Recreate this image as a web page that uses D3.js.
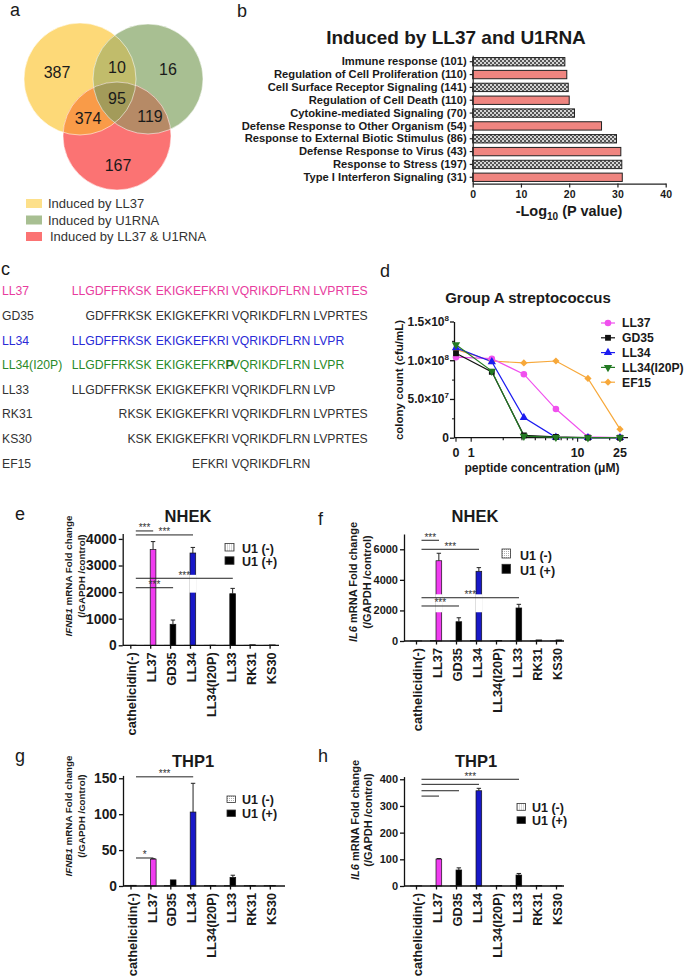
<!DOCTYPE html>
<html>
<head>
<meta charset="utf-8">
<script src="https://cdn.jsdelivr.net/npm/d3@7/dist/d3.min.js"></script>
<style>
  body { margin: 0; background: #fff; }
  svg { display: block; font-family: Arial, "Liberation Sans", Helvetica, sans-serif; }
</style>
</head>
<body>
<svg id="fig" width="685" height="980"></svg>
<script>
// ---- data ----
const vennSets = ["Induced by LL37", "Induced by U1RNA", "Induced by LL37 & U1RNA"];
// regions: LL37 only, LL37&U1, U1 only, all three, LL37&both, U1&both, both only
const vennCounts = [387, 10, 16, 95, 374, 119, 167];

const goTerms = [
  "Immune response (101)",
  "Regulation of Cell Proliferation (110)",
  "Cell Surface Receptor Signaling (141)",
  "Regulation of Cell Death (110)",
  "Cytokine-mediated Signaling (70)",
  "Defense Response to Other Organism (54)",
  "Response to External Biotic Stimulus (86)",
  "Defense Response to Virus (43)",
  "Response to Stress (197)",
  "Type I Interferon Signaling (31)"
];
const goLogP = [19.1, 19.5, 19.8, 20.0, 21.1, 26.7, 29.8, 30.7, 30.9, 31.0];
const goKind = ["hatch", "red", "hatch", "red", "hatch", "red", "hatch", "red", "hatch", "red"];

const ll37Seq = "LLGDFFRKSKEKIGKEFKRIVQRIKDFLRNLVPRTES";
const peptideNames = ["LL37", "GD35", "LL34", "LL34(I20P)", "LL33", "RK31", "KS30", "EF15"];
const peptideSeqs = [
  "LLGDFFRKSKEKIGKEFKRIVQRIKDFLRNLVPRTES",
  "GDFFRKSKEKIGKEFKRIVQRIKDFLRNLVPRTES",
  "LLGDFFRKSKEKIGKEFKRIVQRIKDFLRNLVPR",
  "LLGDFFRKSKEKIGKEFKRPVQRIKDFLRNLVPR",
  "LLGDFFRKSKEKIGKEFKRIVQRIKDFLRNLVP",
  "RKSKEKIGKEFKRIVQRIKDFLRNLVPRTES",
  "KSKEKIGKEFKRIVQRIKDFLRNLVPRTES",
  "EFKRIVQRIKDFLRN"
];
const peptideStart = [1, 3, 1, 1, 1, 7, 8, 16];

const concUM = [0, 1.5625, 3.125, 6.25, 12.5, 25];
const killLL37 = [1.04e8, 1.02e8, 0.82e8, 0.37e8, 0.01e8, 0];
const killGD35 = [1.09e8, 0.85e8, 0.03e8, 0.01e8, 0, 0];
const killLL34 = [1.16e8, 0.98e8, 0.26e8, 0.005e8, 0, 0];
const killLL34I20P = [1.20e8, 0.86e8, 0.02e8, 0.005e8, 0, 0];
const killEF15 = [1.14e8, 0.99e8, 0.965e8, 0.99e8, 0.765e8, 0.11e8];

const cats = ["cathelicidin(-)", "LL37", "GD35", "LL34", "LL34(I20P)", "LL33", "RK31", "KS30"];
const ifnbNhekMinus = [3, 3, 3, 3, 3, 3, 3, 3];
const ifnbNhekPlus = [5, 3600, 790, 3470, 8, 1940, 20, 15];
const ifnbNhekErr = [0, 300, 160, 210, 0, 200, 0, 0];
const il6NhekMinus = [10, 30, 10, 20, 10, 10, 10, 10];
const il6NhekPlus = [10, 5250, 1260, 4560, 30, 2160, 70, 70];
const il6NhekErr = [0, 490, 260, 240, 0, 240, 0, 0];
const ifnbThpMinus = [1, 0.8, 0.8, 0.8, 0.8, 0.8, 0.8, 0.8];
const ifnbThpPlus = [1, 37.5, 8.5, 103, 0.8, 12, 0.8, 0.8];
const ifnbThpErr = [0, 0.5, 0, 40, 0, 3, 0, 0];
const il6ThpMinus = [1, 1, 1, 1, 1, 1, 1, 1];
const il6ThpPlus = [1, 101, 60, 357, 2, 41, 2, 1];
const il6ThpErr = [0, 2, 8, 9, 0, 6, 0, 0];

const FONT_BLACK = "#1a1a1a";

let svg = d3.select("#fig");
svg.append("rect").attr("width", 685).attr("height", 980).attr("fill", "#fff");

let defs = svg.append("defs");
// checker fill used for the grey GO bars
let chk = defs.append("pattern").attr("id", "checker")
  .attr("width", 4).attr("height", 4).attr("patternUnits", "userSpaceOnUse");
chk.append("rect").attr("width", 4).attr("height", 4).attr("fill", "#d4d4d4");
chk.append("rect").attr("width", 2).attr("height", 2).attr("fill", "#555");
chk.append("rect").attr("x", 2).attr("y", 2).attr("width", 2).attr("height", 2).attr("fill", "#555");
// dotted fill for U1(-)
let dots = defs.append("pattern").attr("id", "dots")
  .attr("width", 2).attr("height", 2).attr("patternUnits", "userSpaceOnUse");
dots.append("rect").attr("width", 2).attr("height", 2).attr("fill", "#fff");
dots.append("rect").attr("width", 1).attr("height", 1).attr("fill", "#b0b0b0");

// panel letters
const letters = [["a", 10, 16], ["b", 237, 17], ["c", 1, 275], ["d", 380, 277],
  ["e", 15, 520], ["f", 318, 525], ["g", 15, 762], ["h", 318, 762]];
svg.selectAll(".letter").data(letters).enter().append("text")
  .attr("class", "letter")
  .attr("x", d => d[1]).attr("y", d => d[2])
  .attr("font-size", 18).attr("fill", FONT_BLACK)
  .text(d => d[0]);

// ================= a : venn =================
const vennCircles = [
  { cx: 80, cy: 79, r: 56, fill: "#fdd978" },
  { cx: 148, cy: 79, r: 55, fill: "#a8bf92" },
  { cx: 117, cy: 136, r: 54, fill: "#fb7373" }
];
let venn = svg.append("g");
vennCircles.forEach((c, i) => {
  defs.append("clipPath").attr("id", "vclip" + i)
    .append("circle").attr("cx", c.cx).attr("cy", c.cy).attr("r", c.r);
  venn.append("circle").attr("cx", c.cx).attr("cy", c.cy).attr("r", c.r).attr("fill", c.fill);
});
const [cY, cG, cR] = vennCircles;
venn.append("circle").attr("cx", cG.cx).attr("cy", cG.cy).attr("r", cG.r)
  .attr("fill", "#c1bc6b").attr("clip-path", "url(#vclip0)");
venn.append("circle").attr("cx", cR.cx).attr("cy", cR.cy).attr("r", cR.r)
  .attr("fill", "#f99b48").attr("clip-path", "url(#vclip0)");
venn.append("circle").attr("cx", cR.cx).attr("cy", cR.cy).attr("r", cR.r)
  .attr("fill", "#b68a66").attr("clip-path", "url(#vclip1)");
venn.append("g").attr("clip-path", "url(#vclip0)")
  .append("circle").attr("cx", cR.cx).attr("cy", cR.cy).attr("r", cR.r)
  .attr("fill", "#a39b5a").attr("clip-path", "url(#vclip1)");
venn.selectAll(".edge").data(vennCircles).enter().append("circle")
  .attr("cx", d => d.cx).attr("cy", d => d.cy).attr("r", d => d.r)
  .attr("fill", "none").attr("stroke", "#fff").attr("stroke-opacity", 0.55).attr("stroke-width", 1);

// label spots for the 7 regions
const vennSpots = [[57, 78], [117, 73], [168, 75], [117, 104], [88, 124], [150, 122], [118, 171]];
venn.selectAll(".vn").data(vennCounts).enter().append("text")
  .attr("x", (d, i) => vennSpots[i][0]).attr("y", (d, i) => vennSpots[i][1])
  .attr("text-anchor", "middle").attr("font-size", 16).attr("fill", FONT_BLACK)
  .text(d => d);

const vennSwatch = ["#fde08a", "#a8bf92", "#fb7373"];
let vleg = svg.append("g").selectAll("g").data(vennSets).enter().append("g")
  .attr("transform", (d, i) => `translate(26,${199 + i * 16.5})`);
vleg.append("rect").attr("width", 16).attr("height", 9).attr("fill", (d, i) => vennSwatch[i]);
vleg.append("text").attr("x", (d, i) => i === 2 ? 24 : 22).attr("y", 9)
  .attr("font-size", 13).attr("fill", "#333").text(d => d);

// ================= b : GO terms =================
let xGo = d3.scaleLinear().domain([0, 40]).range([472.7, 665.7]);
let yGo = d3.scaleBand().domain(goTerms).range([55.3, 183.7]).paddingInner(0.35).paddingOuter(0.175);
let gb = svg.append("g");
gb.append("text").attr("x", 456).attr("y", 44).attr("text-anchor", "middle")
  .attr("font-size", 19).attr("font-weight", "bold").attr("fill", FONT_BLACK)
  .text("Induced by LL37 and U1RNA");
gb.selectAll(".gobar").data(goTerms).enter().append("rect")
  .attr("x", xGo(0)).attr("y", d => yGo(d))
  .attr("width", (d, i) => xGo(goLogP[i]) - xGo(0)).attr("height", yGo.bandwidth())
  .attr("fill", (d, i) => goKind[i] === "hatch" ? "url(#checker)" : "#ef8580")
  .attr("stroke", "#222").attr("stroke-width", 1);
gb.append("g").attr("transform", `translate(${xGo(0)},0)`)
  .call(d3.axisLeft(yGo).tickSize(3).tickSizeOuter(0))
  .call(g => g.selectAll("text").attr("font-size", 11.2).attr("font-weight", "bold").attr("fill", FONT_BLACK).attr("font-family", null))
  .call(g => g.selectAll("line,path").attr("stroke", "#222").attr("stroke-width", 1.2));
gb.append("g").attr("transform", "translate(0,183.6)")
  .call(d3.axisBottom(xGo).tickValues([0, 10, 20, 30, 40]).tickSize(4).tickSizeOuter(0))
  .call(g => g.selectAll("text").attr("font-size", 10.5).attr("font-weight", "bold").attr("fill", FONT_BLACK).attr("font-family", null))
  .call(g => g.selectAll("line,path").attr("stroke", "#222").attr("stroke-width", 1.2));
let goLab = gb.append("text").attr("x", 569).attr("y", 216).attr("text-anchor", "middle")
  .attr("font-size", 14.5).attr("font-weight", "bold").attr("fill", FONT_BLACK);
goLab.append("tspan").text("-Log");
goLab.append("tspan").attr("dy", 4).attr("font-size", 10).text("10");
goLab.append("tspan").attr("dy", -4).text(" (P value)");

// ================= c : sequences =================
const pepColor = { "LL37": "#e83c9e", "LL34": "#2a2ad6", "LL34(I20P)": "#2a8a2a" };
const blockStart = [71.7, 155.7, 231.7, 313.3];
const blockEnd = [151.8, 228, 310.7, 369];
let yPep = d3.scalePoint().domain(peptideNames).range([291, 463.3]);
let gc = svg.append("g").attr("font-size", 12.2);
peptideNames.forEach((name, i) => {
  let col = pepColor[name] || "#333";
  let base = yPep(name) + 4.3;
  gc.append("text").attr("x", 2).attr("y", base).attr("fill", col).text(name);
  // split residues into blocks of ten (numbering from LL37)
  let seq = peptideSeqs[i];
  let blocks = d3.groups(seq.split("").map((ch, k) => ({ ch, pos: peptideStart[i] + k })),
    r => Math.floor((r.pos - 1) / 10));
  blocks.forEach(([b, res], j) => {
    let partialFirst = j === 0 && (res[0].pos - 1) % 10 !== 0;
    let t = gc.append("text").attr("y", base).attr("fill", col)
      .attr("x", partialFirst ? blockEnd[b] : blockStart[b])
      .attr("text-anchor", partialFirst ? "end" : "start");
    // group runs that match / differ from LL37
    let runs = [];
    res.forEach(r => {
      let mut = ll37Seq[r.pos - 1] !== r.ch;
      if (runs.length && runs[runs.length - 1].mut === mut) runs[runs.length - 1].s += r.ch;
      else runs.push({ mut, s: r.ch });
    });
    runs.forEach(rn => {
      let ts = t.append("tspan").text(rn.s);
      if (rn.mut) ts.attr("font-weight", "bold").attr("fill", "#1c6e1c");
    });
  });
});

// ================= d : killing curve =================
const killSeries = [
  { name: "LL37", v: killLL37, color: "#f050ee", shape: "circle" },
  { name: "GD35", v: killGD35, color: "#111", shape: "square" },
  { name: "LL34", v: killLL34, color: "#1c1cf0", shape: "up" },
  { name: "LL34(I20P)", v: killLL34I20P, color: "#237a23", shape: "down" },
  { name: "EF15", v: killEF15, color: "#f7a83a", shape: "diamond" }
];
const zeroPos = 0.72; // where 0 sits on the log axis
let xKill = d3.scaleLog().domain([zeroPos, 25]).range([456, 620]);
let yKill = d3.scaleLinear().domain([0, 1.5e8]).range([437.7, 321.5]);
let cx = c => xKill(c === 0 ? zeroPos : c);

function marker(sel, shape, color) {
  let sym = { circle: d3.symbolCircle, square: d3.symbolSquare, up: d3.symbolTriangle,
    down: d3.symbolTriangle, diamond: d3.symbolSquare }[shape];
  let size = { circle: 34, square: 34, up: 30, down: 30, diamond: 26 }[shape];
  let rot = shape === "down" ? 180 : shape === "diamond" ? 45 : 0;
  sel.append("path").attr("d", d3.symbol().type(sym).size(size)())
    .attr("transform", `rotate(${rot})`)
    .attr("fill", color);
}

let gd = svg.append("g");
gd.append("text").attr("x", 528).attr("y", 303).attr("text-anchor", "middle")
  .attr("font-size", 15).attr("font-weight", "bold").attr("fill", FONT_BLACK)
  .text("Group A streptococcus");

let yAx = gd.append("g").attr("transform", "translate(454,0)")
  .call(d3.axisLeft(yKill).tickValues([0, 5e7, 1e8, 1.5e8]).tickSize(4).tickSizeOuter(0).tickFormat(""));
yAx.selectAll("line,path").attr("stroke", "#111").attr("stroke-width", 1.3);
gd.append("g").attr("transform", "translate(454,0)")
  .call(d3.axisLeft(yKill).tickValues([2.5e7, 7.5e7, 1.25e8]).tickSize(2).tickFormat(""))
  .call(g => g.select(".domain").remove())
  .selectAll("line").attr("stroke", "#111").attr("stroke-width", 1);
const yKillLabels = [[0, "0", ""], [5e7, "5.0\u00d710", "7"], [1e8, "1.0\u00d710", "8"], [1.5e8, "1.5\u00d710", "8"]];
yKillLabels.forEach(([v, txt, ex]) => {
  let t = gd.append("text").attr("x", 449).attr("y", yKill(v) + 4.3).attr("text-anchor", "end")
    .attr("font-size", 12).attr("font-weight", "bold").attr("fill", FONT_BLACK);
  t.append("tspan").text(txt);
  if (ex) t.append("tspan").attr("dy", -5).attr("font-size", 8).text(ex);
});

gd.append("line").attr("x1", 454).attr("x2", 628).attr("y1", yKill(0)).attr("y2", yKill(0))
  .attr("stroke", "#111").attr("stroke-width", 1.3);
const xKillTicks = [0, 1, 2, 3, 4, 5, 6, 7, 8, 9, 10, 20, 25];
const xKillLabeled = [0, 1, 10, 25];
gd.selectAll(".xkt").data(xKillTicks).enter().append("line")
  .attr("x1", d => cx(d)).attr("x2", d => cx(d))
  .attr("y1", yKill(0)).attr("y2", d => yKill(0) + (xKillLabeled.includes(d) ? 4 : 2.5))
  .attr("stroke", "#111").attr("stroke-width", 1.1);
gd.selectAll(".xkl").data(xKillLabeled).enter().append("text")
  .attr("x", d => cx(d)).attr("y", 457).attr("text-anchor", "middle")
  .attr("font-size", 12.5).attr("font-weight", "bold").attr("fill", FONT_BLACK)
  .text(d => d);
gd.append("text").attr("x", 542).attr("y", 471.5).attr("text-anchor", "middle")
  .attr("font-size", 12.1).attr("font-weight", "bold").attr("fill", FONT_BLACK)
  .text("peptide concentration (\u03bcM)");
gd.append("text").attr("transform", "translate(403,380) rotate(-90)").attr("text-anchor", "middle")
  .attr("font-size", 11.5).attr("font-weight", "bold").attr("fill", FONT_BLACK)
  .text("colony count (cfu/mL)");

let lineGen = d3.line().x((d, i) => cx(concUM[i])).y(d => yKill(d));
const drawOrder = [4, 0, 2, 1, 3];
drawOrder.forEach(k => {
  let s = killSeries[k];
  gd.append("path").attr("d", lineGen(s.v)).attr("fill", "none")
    .attr("stroke", s.color).attr("stroke-width", 1.2);
});
drawOrder.forEach(k => {
  let s = killSeries[k];
  s.v.forEach((v, i) => {
    let m = gd.append("g").attr("transform", `translate(${cx(concUM[i])},${yKill(v)})`);
    marker(m, s.shape, s.color);
  });
});
let kleg = gd.selectAll(".kleg").data(killSeries).enter().append("g")
  .attr("transform", (d, i) => `translate(608,${323 + i * 14.8})`);
kleg.append("line").attr("x1", -7).attr("x2", 7).attr("stroke", d => d.color).attr("stroke-width", 1.2);
kleg.each(function (d) { marker(d3.select(this), d.shape, d.color); });
kleg.append("text").attr("x", 14).attr("y", 4.4).attr("font-size", 12.2).attr("font-weight", "bold")
  .attr("fill", FONT_BLACK).text(d => d.name);

// ================= e-h : qPCR bars =================
const barColor = { "LL37": "#f03cf0", "LL34": "#1818c8" };

function barPanel(p) {
  let g = svg.append("g");
  let x = d3.scalePoint().domain(cats).range([p.c0, p.c0 + p.step * (cats.length - 1)]);
  let y = d3.scaleLinear().domain([0, p.top]).range([p.y0, p.yTop]);

  g.append("text").attr("x", p.titleX).attr("y", p.titleY).attr("text-anchor", "middle")
    .attr("font-size", 16.5).attr("font-weight", "bold").attr("fill", FONT_BLACK).text(p.title);

  // bars
  g.selectAll(".minus").data(cats).enter().append("rect")
    .attr("x", d => x(d) - p.bw).attr("width", p.bw)
    .attr("y", (d, i) => y(p.minus[i])).attr("height", (d, i) => y(0) - y(p.minus[i]))
    .attr("fill", "url(#dots)").attr("stroke", "#333").attr("stroke-width", 0.6);
  g.selectAll(".plus").data(cats).enter().append("rect")
    .attr("x", d => x(d)).attr("width", p.bw)
    .attr("y", (d, i) => y(p.plus[i])).attr("height", (d, i) => y(0) - y(p.plus[i]))
    .attr("fill", d => barColor[d] || "#000").attr("stroke", "#111").attr("stroke-width", 0.7);
  // error bars (upper)
  let errCats = cats.filter((d, i) => p.err[i] > 0);
  let top = d => y(p.plus[cats.indexOf(d)] + p.err[cats.indexOf(d)]);
  let eb = g.selectAll(".err").data(errCats).enter().append("g");
  eb.append("line")
    .attr("x1", d => x(d) + p.bw / 2).attr("x2", d => x(d) + p.bw / 2)
    .attr("y1", d => y(p.plus[cats.indexOf(d)])).attr("y2", top)
    .attr("stroke", "#222").attr("stroke-width", 1);
  eb.append("line")
    .attr("x1", d => x(d) + p.bw / 2 - 2.2).attr("x2", d => x(d) + p.bw / 2 + 2.2)
    .attr("y1", top).attr("y2", top)
    .attr("stroke", "#222").attr("stroke-width", 1);
  // white breaks seen on some bars
  (p.gaps || []).forEach(gp => gp.cats.forEach(c => {
    g.append("rect").attr("x", x(c) - 0.6).attr("width", p.bw + 1.2)
      .attr("y", y(gp.to)).attr("height", y(gp.from) - y(gp.to)).attr("fill", "#fff");
  }));

  // axes
  g.append("g").attr("transform", `translate(${p.x0},0)`)
    .call(d3.axisLeft(y).tickValues(p.ticks).tickSize(4).tickSizeOuter(0).tickFormat(d3.format("d")))
    .call(a => a.selectAll("text").attr("font-size", p.tickFs).attr("font-weight", "bold")
      .attr("fill", FONT_BLACK).attr("font-family", null).attr("x", -6))
    .call(a => a.selectAll("line,path").attr("stroke", "#111").attr("stroke-width", 1.3));
  g.append("g").attr("transform", `translate(0,${p.y0})`)
    .call(d3.axisBottom(x).tickSize(3.5).tickSizeOuter(0))
    .call(a => a.select(".domain").attr("d", `M${p.x0},0H${p.xEnd}`))
    .call(a => a.selectAll("line,path").attr("stroke", "#111").attr("stroke-width", 1.3))
    .call(a => a.selectAll("text").attr("transform", "rotate(-90)").attr("text-anchor", "end")
      .attr("x", -7).attr("y", 1.2).attr("dy", "0.35em")
      .attr("font-size", 12.8).attr("font-weight", "bold").attr("fill", FONT_BLACK).attr("font-family", null));

  // significance lines
  p.sig.forEach(s => {
    let x1 = x(cats[0]) + 5.5, x2 = x(s.to) + 3;
    g.append("line").attr("x1", x1).attr("x2", x2).attr("y1", y(s.y)).attr("y2", y(s.y))
      .attr("stroke", "#222").attr("stroke-width", 1);
    if (s.label) g.append("text").attr("x", (x1 + x2) / 2).attr("y", y(s.y) + 0.5)
      .attr("text-anchor", "middle").attr("font-size", 10).attr("fill", "#333").text(s.label);
  });

  // y label
  let yl = g.append("text").attr("transform", `translate(${p.labX[0]},${p.labY}) rotate(-90)`)
    .attr("text-anchor", "middle").attr("font-size", p.labFs).attr("font-weight", "bold").attr("fill", FONT_BLACK);
  yl.append("tspan").attr("font-style", "italic").text(p.gene);
  yl.append("tspan").text(" mRNA Fold change");
  g.append("text").attr("transform", `translate(${p.labX[1]},${p.labY}) rotate(-90)`)
    .attr("text-anchor", "middle").attr("font-size", p.labFs).attr("font-weight", "bold").attr("fill", FONT_BLACK)
    .text("(/GAPDH /control)");

  // legend
  let L = p.legend;
  let lg = g.selectAll(".lg").data(["U1 (-)", "U1 (+)"]).enter().append("g")
    .attr("transform", (d, i) => `translate(${L.x},${L.y + i * L.row})`);
  lg.append("rect").attr("width", L.w).attr("height", L.h)
    .attr("fill", (d, i) => i === 0 ? "url(#dots)" : "#000").attr("stroke", "#333").attr("stroke-width", 0.8);
  lg.append("text").attr("x", L.tx - L.x).attr("y", L.h + 1.6).attr("font-size", 12.5)
    .attr("font-weight", "bold").attr("fill", FONT_BLACK).text(d => d);
}

barPanel({
  title: "NHEK", titleX: 188, titleY: 522, gene: "IFNB1",
  x0: 122.7, xEnd: 279, c0: 130.3, step: 19.9, bw: 5.7,
  y0: 645.3, top: 4200, yTop: 533.6, ticks: [0, 1000, 2000, 3000, 4000], tickFs: 13.8,
  labFs: 9.8, labX: [71.7, 84.6], labY: 576,
  minus: ifnbNhekMinus, plus: ifnbNhekPlus, err: ifnbNhekErr,
  sig: [{ to: "LL37", y: 4300, label: "***" }, { to: "LL34", y: 4150, label: "***" },
    { to: "LL33", y: 2520, label: "***" }, { to: "GD35", y: 2165, label: "***" }],
  gaps: [{ cats: ["LL34"], from: 1980, to: 2650 }],
  legend: { x: 225, y: 543.5, w: 9, h: 7.5, row: 13.3, tx: 242 }
});
barPanel({
  title: "NHEK", titleX: 475, titleY: 522, gene: "IL6",
  x0: 404, xEnd: 564, c0: 416, step: 20, bw: 5.7,
  y0: 641, top: 7000, yTop: 534, ticks: [0, 2000, 4000, 6000], tickFs: 11,
  labFs: 11, labX: [357.2, 370.5], labY: 582,
  minus: il6NhekMinus, plus: il6NhekPlus, err: il6NhekErr,
  sig: [{ to: "LL37", y: 6590, label: "***" }, { to: "LL34", y: 6000, label: "***" },
    { to: "LL33", y: 2830, label: "***" }, { to: "GD35", y: 2290, label: "***" }],
  gaps: [{ cats: ["LL37", "LL34"], from: 1880, to: 3055 }],
  legend: { x: 502, y: 549, w: 8.5, h: 9, row: 15.3, tx: 520 }
});
barPanel({
  title: "THP1", titleX: 193, titleY: 767, gene: "IFNB1",
  x0: 123, xEnd: 285, c0: 130.5, step: 19.9, bw: 5.7,
  y0: 886, top: 154, yTop: 775.4, ticks: [0, 50, 100, 150], tickFs: 13.8,
  labFs: 9.8, labX: [71.7, 85], labY: 816,
  minus: ifnbThpMinus, plus: ifnbThpPlus, err: ifnbThpErr,
  sig: [{ to: "LL37", y: 39, label: "*" }, { to: "LL34", y: 152, label: "***" }],
  legend: { x: 227, y: 796, w: 8.5, h: 6.5, row: 14, tx: 242 }
});
barPanel({
  title: "THP1", titleX: 476, titleY: 767, gene: "IL6",
  x0: 404, xEnd: 564, c0: 416, step: 20, bw: 5.7,
  y0: 886, top: 410, yTop: 776.6, ticks: [0, 100, 200, 300, 400], tickFs: 11,
  labFs: 11, labX: [358.9, 372.2], labY: 820,
  minus: il6ThpMinus, plus: il6ThpPlus, err: il6ThpErr,
  sig: [{ to: "LL33", y: 400, label: "***" }, { to: "LL34", y: 381, label: "" },
    { to: "GD35", y: 357, label: "" }, { to: "LL37", y: 337, label: "" }],
  legend: { x: 517, y: 803.5, w: 8.5, h: 6.8, row: 13.3, tx: 532 }
});
</script>
</body>
</html>
